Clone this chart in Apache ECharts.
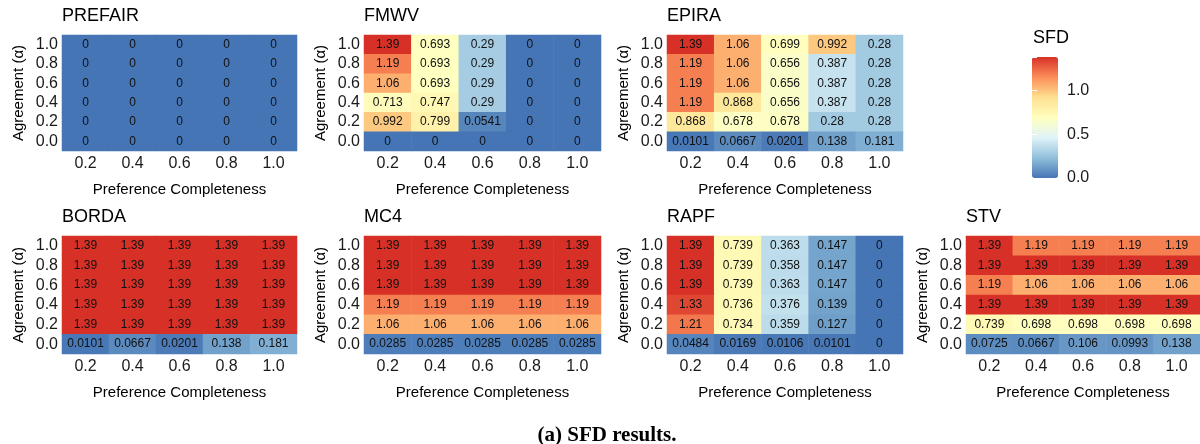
<!DOCTYPE html>
<html>
<head>
<meta charset="utf-8">
<script src="https://cdn.jsdelivr.net/npm/echarts@6/dist/echarts.min.js"></script>
<style>
  html, body { margin: 0; padding: 0; background: #fff; }
  #main { width: 1200px; height: 444px; }
</style>
</head>
<body>
<div id="main"></div>
<script>
// axis categories
var completeness = ['0.2', '0.4', '0.6', '0.8', '1.0'];
var agreement = ['0.0', '0.2', '0.4', '0.6', '0.8', '1.0'];

// each method: rows from agreement 1.0 (top) down to 0.0, columns = completeness
var prefair = [
  [0, 0, 0, 0, 0],
  [0, 0, 0, 0, 0],
  [0, 0, 0, 0, 0],
  [0, 0, 0, 0, 0],
  [0, 0, 0, 0, 0],
  [0, 0, 0, 0, 0]
];
var fmwv = [
  [1.39, 0.693, 0.29, 0, 0],
  [1.19, 0.693, 0.29, 0, 0],
  [1.06, 0.693, 0.29, 0, 0],
  [0.713, 0.747, 0.29, 0, 0],
  [0.992, 0.799, 0.0541, 0, 0],
  [0, 0, 0, 0, 0]
];
var epira = [
  [1.39, 1.06, 0.699, 0.992, 0.28],
  [1.19, 1.06, 0.656, 0.387, 0.28],
  [1.19, 1.06, 0.656, 0.387, 0.28],
  [1.19, 0.868, 0.656, 0.387, 0.28],
  [0.868, 0.678, 0.678, 0.28, 0.28],
  [0.0101, 0.0667, 0.0201, 0.138, 0.181]
];
var borda = [
  [1.39, 1.39, 1.39, 1.39, 1.39],
  [1.39, 1.39, 1.39, 1.39, 1.39],
  [1.39, 1.39, 1.39, 1.39, 1.39],
  [1.39, 1.39, 1.39, 1.39, 1.39],
  [1.39, 1.39, 1.39, 1.39, 1.39],
  [0.0101, 0.0667, 0.0201, 0.138, 0.181]
];
var mc4 = [
  [1.39, 1.39, 1.39, 1.39, 1.39],
  [1.39, 1.39, 1.39, 1.39, 1.39],
  [1.39, 1.39, 1.39, 1.39, 1.39],
  [1.19, 1.19, 1.19, 1.19, 1.19],
  [1.06, 1.06, 1.06, 1.06, 1.06],
  [0.0285, 0.0285, 0.0285, 0.0285, 0.0285]
];
var rapf = [
  [1.39, 0.739, 0.363, 0.147, 0],
  [1.39, 0.739, 0.358, 0.147, 0],
  [1.39, 0.739, 0.363, 0.147, 0],
  [1.33, 0.736, 0.376, 0.139, 0],
  [1.21, 0.734, 0.359, 0.127, 0],
  [0.0484, 0.0169, 0.0106, 0.0101, 0]
];
var stv = [
  [1.39, 1.19, 1.19, 1.19, 1.19],
  [1.39, 1.39, 1.39, 1.39, 1.39],
  [1.19, 1.06, 1.06, 1.06, 1.06],
  [1.39, 1.39, 1.39, 1.39, 1.39],
  [0.739, 0.698, 0.698, 0.698, 0.698],
  [0.0725, 0.0667, 0.106, 0.0993, 0.138]
];

var methods = ['PREFAIR', 'FMWV', 'EPIRA', 'BORDA', 'MC4', 'RAPF', 'STV'];
var tables = [prefair, fmwv, epira, borda, mc4, rapf, stv];
var sfdMax = 1.386;
var colorTicks = [0, 0.5, 1.0];

// panel boxes [left, top, width, height]
var boxes = [
  [62, 35, 235, 116],
  [364, 35, 237, 116],
  [667, 35, 236, 116],
  [62, 236, 235, 118],
  [364, 236, 237, 118],
  [667, 236, 236, 118],
  [966, 236, 239, 118]
];

var FONT = 'Liberation Sans, Arial, sans-serif';

function toCells(rows) {
  var out = [];
  for (var r = 0; r < rows.length; r++) {
    var yi = agreement.length - 1 - r;
    for (var c = 0; c < rows[r].length; c++) {
      out.push([c, yi, rows[r][c]]);
    }
  }
  return out;
}

var grids = [], xAxes = [], yAxes = [], series = [], titles = [];

for (var i = 0; i < methods.length; i++) {
  var b = boxes[i];
  grids.push({ left: b[0], top: b[1], width: b[2], height: b[3], containLabel: false });
  titles.push({
    text: methods[i], left: b[0] - 5, top: b[1] - 33,
    textStyle: { fontFamily: FONT, fontSize: 18, fontWeight: 'normal', color: '#000' }
  });
  xAxes.push({
    type: 'category', gridIndex: i, data: completeness,
    axisLine: { show: false }, axisTick: { show: false }, splitArea: { show: false },
    axisLabel: { fontFamily: FONT, fontSize: 16, color: '#1a1a1a', margin: 5, interval: 0 },
    name: 'Preference Completeness', nameLocation: 'middle', nameGap: 31,
    nameTextStyle: { fontFamily: FONT, fontSize: 15, color: '#000' }
  });
  yAxes.push({
    type: 'category', gridIndex: i, data: agreement,
    axisLine: { show: false }, axisTick: { show: false }, splitArea: { show: false },
    axisLabel: { fontFamily: FONT, fontSize: 16, color: '#1a1a1a', margin: 4, interval: 0, hideOverlap: false },
    name: 'Agreement (α)', nameLocation: 'middle', nameGap: 36, nameRotate: 90,
    nameTextStyle: { fontFamily: FONT, fontSize: 15, color: '#000' }
  });
  series.push({
    type: 'heatmap', xAxisIndex: i, yAxisIndex: i,
    data: toCells(tables[i]),
    label: {
      show: true, fontFamily: FONT, fontSize: 12, color: '#111',
      formatter: function (p) { return String(p.value[2]); }
    },
    itemStyle: { borderWidth: 0 },
    emphasis: { disabled: true }
  });
}

// colour bar axis (ticks and labels)
grids.push({ left: 1032, top: 57, width: 26, height: 121 });
xAxes.push({ type: 'value', gridIndex: 7, show: false });
yAxes.push({
  type: 'value', gridIndex: 7, position: 'right', min: 0, max: sfdMax, interval: 0.5, z: 10,
  axisLine: { show: false }, splitLine: { show: false },
  axisTick: { show: true, inside: true, length: 5, lineStyle: { color: '#fff', width: 1 } },
  axisLabel: {
    fontFamily: FONT, fontSize: 16, color: '#1a1a1a', margin: 9,
    formatter: function (v) { return colorTicks.indexOf(v) >= 0 ? v.toFixed(1) : ''; }
  }
});
yAxes.push({
  type: 'value', gridIndex: 7, position: 'left', min: 0, max: sfdMax, interval: 0.5, z: 10,
  axisLine: { show: false }, splitLine: { show: false }, axisLabel: { show: false },
  axisTick: { show: true, inside: true, length: 5, lineStyle: { color: '#fff', width: 1 } }
});

titles.push({
  text: 'SFD', left: 1028, top: 24,
  textStyle: { fontFamily: FONT, fontSize: 18, fontWeight: 'normal', color: '#000' }
});
titles.push({
  text: '(a) SFD results.', left: 602, top: 420, textAlign: 'center',
  textStyle: { fontFamily: 'Liberation Serif, serif', fontSize: 21, fontWeight: 'bold', color: '#000' }
});

var myChart = echarts.init(document.getElementById('main'), null, { renderer: 'canvas' });
myChart.setOption({
  backgroundColor: '#fff',
  animation: false,
  title: titles,
  grid: grids,
  xAxis: xAxes,
  yAxis: yAxes,
  visualMap: {
    type: 'continuous', min: 0, max: sfdMax, seriesIndex: [0, 1, 2, 3, 4, 5, 6],
    left: 1032, top: 57, itemWidth: 26, itemHeight: 121, calculable: false,
    showLabel: false, text: null, padding: 0,
    inRange: { color: ['#4575b4', '#91bfdb', '#e0f3f8', '#ffffbf', '#fee090', '#fc8d59', '#d73027'] }
  },
  series: series
});
</script>
</body>
</html>
